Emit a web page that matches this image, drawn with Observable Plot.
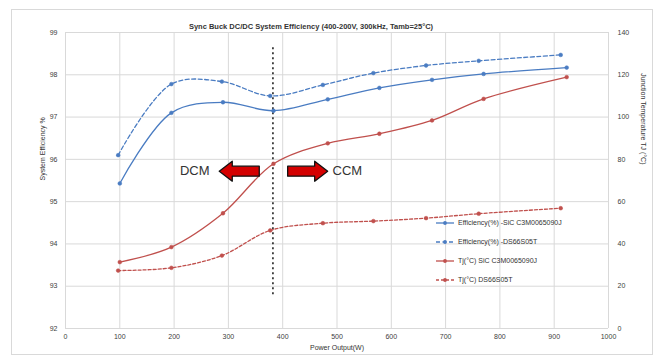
<!DOCTYPE html>
<html>
<head>
<meta charset="utf-8">
<script src="https://cdn.jsdelivr.net/npm/d3@7"></script>
<script src="https://cdn.jsdelivr.net/npm/@observablehq/plot@0.6"></script>
<style>
  html, body { margin: 0; padding: 0; background: #fff; }
  #wrap { position: relative; width: 659px; height: 358px; overflow: hidden; font-family: "Liberation Sans", Arial, sans-serif; }
  #border { position: absolute; left: 11px; top: 9px; width: 642px; height: 346px; border: 1px solid #d9d9d9; box-sizing: border-box; pointer-events: none; }
  #legend { position: absolute; left: 436px; top: 213px; font-size: 7px; color: #333; }
  #legend .row { height: 19px; display: flex; align-items: center; }
  #legend svg { margin-right: 4px; }
</style>
</head>
<body>
<div id="wrap"><div id="border"></div><div id="legend"></div></div>
<script>
// ---- data ----
const title = "Sync Buck DC/DC System Efficiency (400-200V, 300kHz, Tamb=25°C)";
const xLabel = "Power Output(W)";
const yLabelLeft = "System Efficiency %";
const yLabelRight = "Junction Temperature TJ (°C)";

const powerSiC = [100, 195, 290, 383, 483, 578, 675, 770, 923];
const powerSi  = [97, 195, 288, 377, 474, 567, 664, 761, 912];

const effSiC = [95.43, 97.1, 97.35, 97.15, 97.42, 97.69, 97.88, 98.02, 98.17];
const effSi  = [96.1, 97.78, 97.84, 97.5, 97.76, 98.04, 98.22, 98.33, 98.47];
const tjSiC  = [31.4, 38.5, 54.5, 77.9, 87.6, 92.1, 98.4, 108.6, 118.9];
const tjSi   = [27.4, 28.7, 34.5, 46.4, 49.8, 50.8, 52.2, 54.3, 56.9];

const seriesNames = [
  "Efficiency(%) -SiC C3M0065090J",
  "Efficiency(%) -DS66S05T",
  "Tj(°C) SiC C3M0065090J",
  "Tj(°C) DS66S05T"
];

const xTicks = [0, 100, 200, 300, 400, 500, 600, 700, 800, 900, 1000];
const yTicksLeft = [92, 93, 94, 95, 96, 97, 98, 99];
const yTicksRight = [0, 20, 40, 60, 80, 100, 120, 140];

// boundary between DCM and CCM
const boundary = [{power: 382, from: 92.8, to: 98.7}];
const modeLabels = [{label: "DCM", power: 238, eff: 95.72}, {label: "CCM", power: 519, eff: 95.72}];
const modeArrows = [{power: 320, eff: 95.72, dir: -90}, {power: 446, eff: 95.72, dir: 90}];

// ---- mapping temperature onto efficiency scale (0..140 -> 92..99) ----
const tjToEff = t => 92 + t / 20;

const blue = "#4a7cc2", red = "#c0504d";
const styles = [
  {color: blue, dash: null},
  {color: blue, dash: "4,2.5"},
  {color: red, dash: null},
  {color: red, dash: "3,2"}
];

const mk = (xs, ys, f = v => v) => xs.map((x, i) => ({x, y: f(ys[i])}));
const series = [
  mk(powerSiC, effSiC),
  mk(powerSi, effSi),
  mk(powerSiC, tjSiC, tjToEff),
  mk(powerSi, tjSi, tjToEff)
];

const blockArrow = {
  draw(context, l) {
    const sw = 5, hw = 10, hl = 13;
    context.moveTo(-sw, 0);
    context.lineTo(-sw, -(l - hl));
    context.lineTo(-hw, -(l - hl));
    context.lineTo(0, -l);
    context.lineTo(hw, -(l - hl));
    context.lineTo(sw, -(l - hl));
    context.lineTo(sw, 0);
    context.closePath();
  }
};

const marks = [
  Plot.gridX(xTicks, {stroke: "#d9d9d9", strokeOpacity: 1}),
  Plot.gridY(yTicksLeft, {stroke: "#d9d9d9", strokeOpacity: 1}),
  Plot.axisX(xTicks, {tickSize: 0, tickPadding: 6, label: null, fill: "#404040", tickFormat: d => String(d)}),
  Plot.axisY(yTicksLeft, {anchor: "left", tickSize: 0, tickPadding: 8, label: null, fill: "#404040"}),
  Plot.axisY(yTicksLeft, {anchor: "right", tickSize: 0, tickPadding: 9, label: null, fill: "#404040",
    tickFormat: (d, i) => String(yTicksRight[i])}),
  Plot.ruleX(boundary, {x: "power", y1: "from", y2: "to", stroke: "#222", strokeWidth: 1.6, strokeDasharray: "2,3"})
];

series.forEach((data, i) => {
  const s = styles[i];
  marks.push(Plot.line(data, {x: "x", y: "y", curve: "catmull-rom", stroke: s.color, strokeWidth: 1.3,
    strokeDasharray: s.dash || undefined}));
  marks.push(Plot.dot(data, {x: "x", y: "y", r: 1.9, fill: s.color, stroke: s.color, strokeWidth: 0.5}));
});

marks.push(
  Plot.vector(modeArrows, {x: "power", y: "eff", rotate: "dir", length: 40, anchor: "middle", shape: blockArrow,
    fill: "#d40000", stroke: "#111", strokeWidth: 1.3}),
  Plot.text(modeLabels, {x: "power", y: "eff", text: "label", fontSize: 13, fill: "#333"}),
  Plot.text([title], {frameAnchor: "top", dy: -9, dx: -26, fontSize: 7.5, fontWeight: "bold", fill: "#333"}),
  Plot.text([xLabel], {frameAnchor: "bottom", dy: 21, fontSize: 7, fill: "#333"}),
  Plot.text([yLabelLeft], {frameAnchor: "left", dx: -23, rotate: -90, fontSize: 7, fill: "#333"}),
  Plot.text([yLabelRight], {frameAnchor: "right", dx: 35, dy: -16, rotate: 90, fontSize: 7, fill: "#333"})
);

const chart = Plot.plot({
  width: 659,
  height: 358,
  marginLeft: 65,
  marginRight: 51,
  marginTop: 32,
  marginBottom: 30,
  style: {fontFamily: "'Liberation Sans', Arial, sans-serif", fontSize: "7px", background: "transparent", overflow: "visible"},
  x: {domain: [0, 1000]},
  y: {domain: [92, 99]},
  marks
});
chart.style.position = "absolute";
chart.style.left = "0";
chart.style.top = "0";
document.getElementById("wrap").prepend(chart);

// legend
const legend = document.getElementById("legend");
seriesNames.forEach((name, i) => {
  const s = styles[i];
  const row = document.createElement("div");
  row.className = "row";
  row.innerHTML = `<svg width="18" height="6"><line x1="0" y1="3" x2="18" y2="3" stroke="${s.color}" stroke-width="1.3" ${s.dash ? `stroke-dasharray="${s.dash}"` : ""}/><circle cx="9" cy="3" r="1.9" fill="${s.color}"/></svg><span>${name}</span>`;
  legend.appendChild(row);
});
</script>
</body>
</html>
